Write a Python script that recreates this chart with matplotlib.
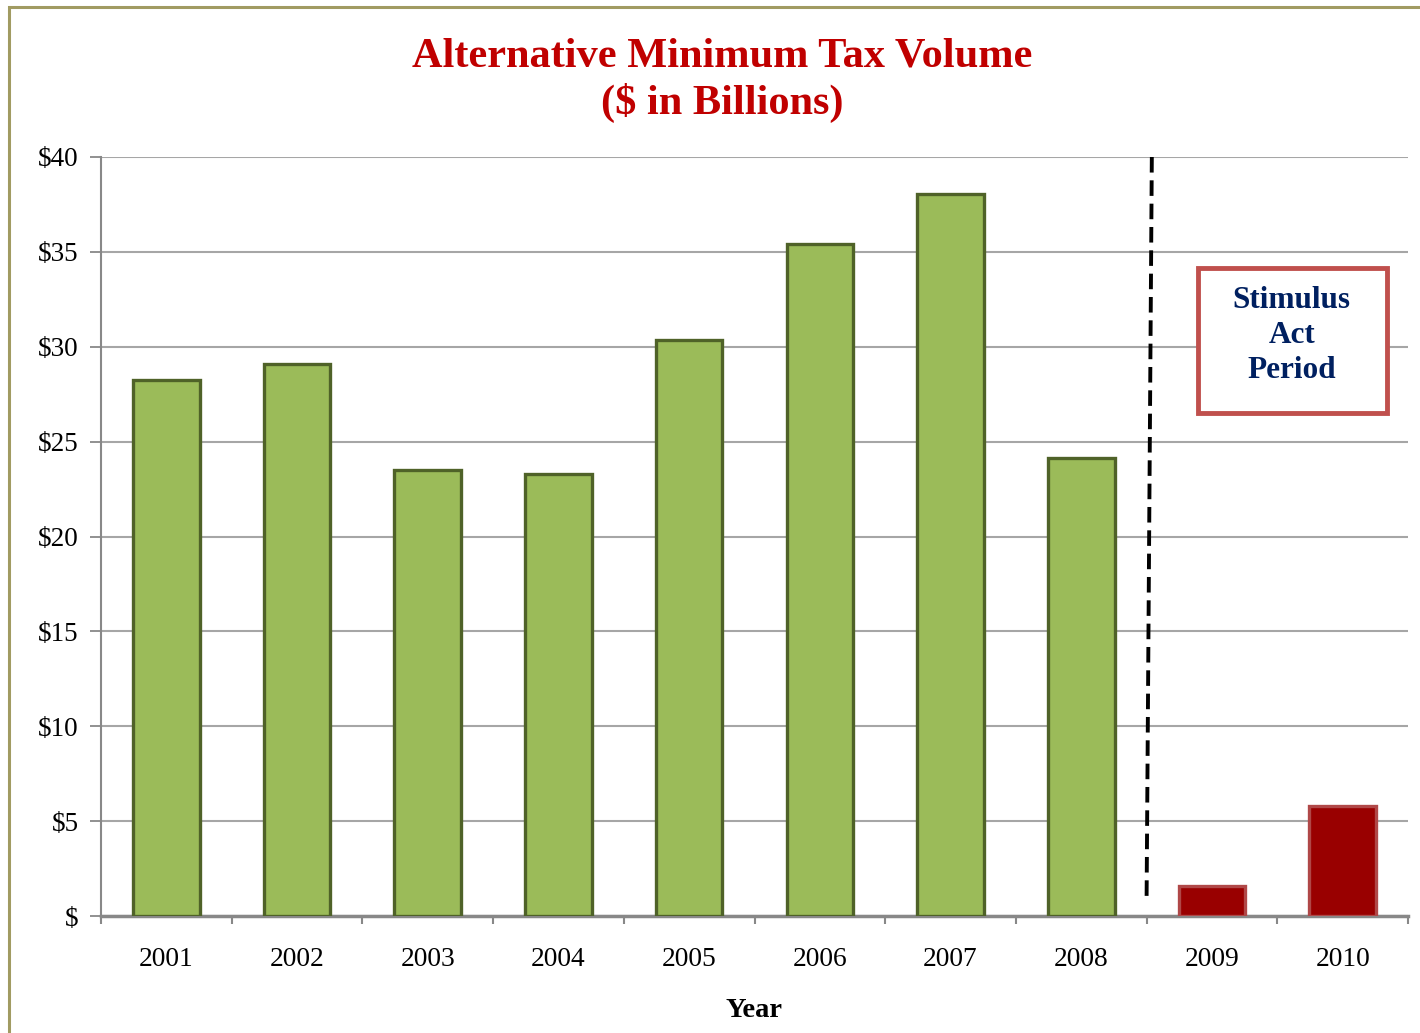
import matplotlib.pyplot as plt
from matplotlib.patches import Rectangle

# data
years = ['2001', '2002', '2003', '2004', '2005', '2006', '2007', '2008', '2009', '2010']
amt_volume = [28.25, 29.1, 23.5, 23.3, 30.35, 35.4, 38.05, 24.15, 1.6, 5.8]
stimulus_years = ['2009', '2010']
y_ticks = [0, 5, 10, 15, 20, 25, 30, 35, 40]
y_labels = ['$', '$5', '$10', '$15', '$20', '$25', '$30', '$35', '$40']

plt.rcParams['font.family'] = ['Liberation Serif', 'DejaVu Serif']

fig = plt.figure(figsize=(14.2, 10.33), dpi=100)
ax = fig.add_axes([101/1420, 1 - 916/1033, 1307/1420, 759/1033])

# frame of the original slide (only left and top visible)
fig.patches.append(Rectangle((9/1420, -0.1), 1.2, 1 - 7/1033 + 0.1, transform=fig.transFigure,
                             fill=False, edgecolor='#A19B62', lw=2.2))

x = list(range(len(years)))
face = ['#990000' if y in stimulus_years else '#9BBB59' for y in years]
edge = ['#B04848' if y in stimulus_years else '#4F6228' for y in years]
ax.bar(x, amt_volume, width=0.51, color=face, edgecolor=edge, linewidth=2.4, zorder=3)

ax.set_xlim(-0.5, len(years) - 0.5)
ax.set_ylim(0, 40)
ax.set_yticks(y_ticks)
ax.set_yticklabels(y_labels, fontsize=19.5)
ax.set_xticks(x)
ax.set_xticklabels(years, fontsize=19.8)
ax.tick_params(axis='x', length=0, pad=22)
ax.set_xticks([i - 0.5 for i in range(len(years) + 1)], minor=True)
ax.tick_params(axis='x', which='minor', length=6, width=1.5, color='#888888', direction='out')
ax.tick_params(axis='y', length=8, width=1.3, color='#888888', pad=8)
for lab in ax.get_yticklabels():
    lab.set_horizontalalignment('right')

ax.grid(axis='y', color='#A6A6A6', lw=1.5, zorder=0)
ax.set_axisbelow(True)
for s in ['top', 'right']:
    ax.spines[s].set_visible(False)
ax.spines['left'].set_color('#888888')
ax.spines['left'].set_linewidth(1.5)
ax.spines['bottom'].set_color('#888888')
ax.spines['bottom'].set_linewidth(2.5)

ax.set_xlabel('Year', fontsize=20.5, fontweight='bold', labelpad=19)

# dashed divider before the stimulus period
ax.plot([7.54, 7.50], [40, 1.0], ls=(0, (4, 2)), color='black', lw=2.8, zorder=4, clip_on=False)

# stimulus act box
ax.add_patch(Rectangle((7.89, 26.5), 1.45, 7.65, fill=True, facecolor='white',
                       edgecolor='#C0504D', lw=3.5, zorder=5))
ax.text(8.61, 30.6, 'Stimulus\nAct\nPeriod', ha='center', va='center', fontsize=22.5,
        fontweight='bold', color='#002060', linespacing=1.27, zorder=6)

fig.text(722/1420, 1 - 80/1033, 'Alternative Minimum Tax Volume\n($ in Billions)',
         ha='center', va='center', fontsize=30.5, fontweight='bold', color='#C00000', linespacing=1.25)

fig.savefig('out.png', dpi=100)
